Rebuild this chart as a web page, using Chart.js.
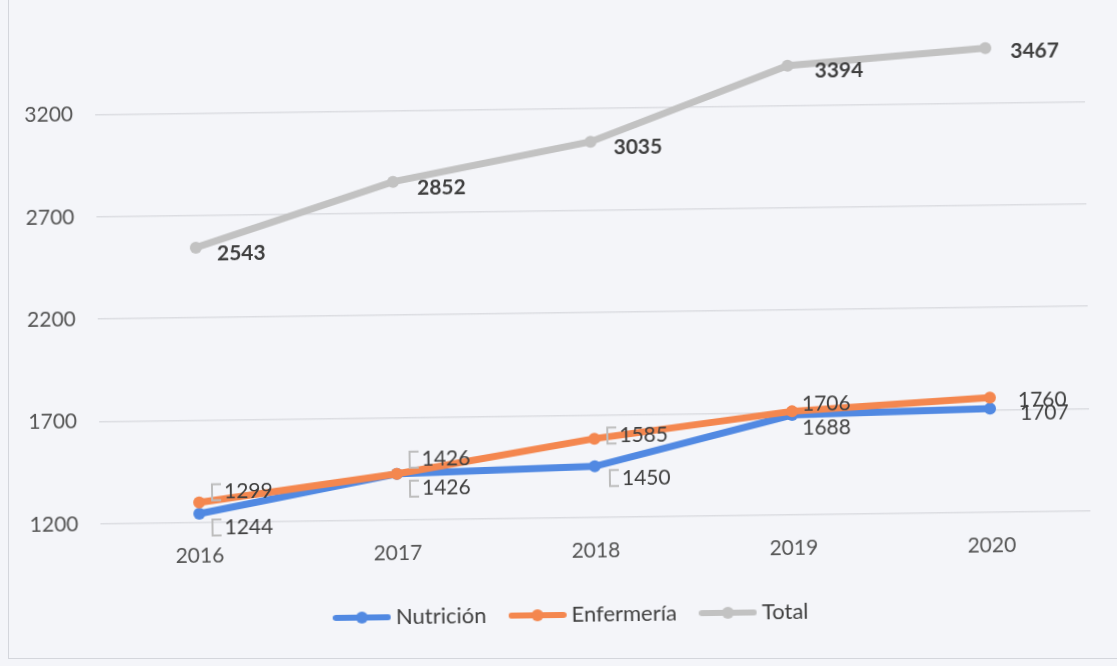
<!DOCTYPE html>
<html>
<head>
<meta charset="utf-8">
<script src="https://cdn.jsdelivr.net/npm/chart.js@4"></script>
<style>
  html, body { margin:0; padding:0; background:#f4f5f9; }
  #wrap { position:relative; width:1117px; height:666px; overflow:hidden; background:#f4f5f9; }
  #frame { position:absolute; left:8px; top:-2px; width:1120px; height:661px; border:1px solid #d4d6dc; box-sizing:border-box; }
  #c { position:absolute; left:0; top:0; transform: rotate(-0.75deg); transform-origin: 558px 333px; }
</style>
</head>
<body>
<div id="wrap">
  <div id="frame"></div>
  <canvas id="c" width="1117" height="666"></canvas>
</div>
<script>
const categories = ['2016', '2017', '2018', '2019', '2020'];
const nutricion  = [1244, 1426, 1450, 1688, 1707];
const enfermeria = [1299, 1426, 1585, 1706, 1760];
const total      = [2543, 2852, 3035, 3394, 3467];
const seriesNames = ['Nutrición', 'Enfermería', 'Total'];
const yTicks = [1200, 1700, 2200, 2700, 3200];

const colors = ['#5189e2', '#f4874f', '#c2c2c2'];
const FONT = 'Lato, "Noto Sans", sans-serif';

// label offsets (dx, dy) per series per point – styling only
const labelOffsets = [
  [[25, 14], [25, 15], [27, 12], [10, 13], [30, 5]],
  [[25, -10], [25, -14], [25, -3], [10, -7], [28, 3]],
  [[21, 6], [24, 7], [23, 6], [27, 6], [25, 4]]
];
const leaderSeries = { 0: [0, 1, 2], 1: [0, 1, 2] };

function legendIcon(color) {
  const cv = document.createElement('canvas');
  cv.width = 58; cv.height = 14;
  const g = cv.getContext('2d');
  g.strokeStyle = color; g.lineWidth = 6; g.lineCap = 'round';
  g.beginPath(); g.moveTo(3, 7); g.lineTo(55, 7); g.stroke();
  g.fillStyle = color;
  g.beginPath(); g.arc(29, 7, 6, 0, Math.PI * 2); g.fill();
  return cv;
}

const dataLabelPlugin = {
  id: 'dataLabels',
  afterLayout(chart) {
    // centre the legend under the whole frame rather than the padded area
    chart.legend.left += 26;
    chart.legend.right += 26;
  },
  afterDatasetsDraw(chart) {
    const ctx = chart.ctx;
    ctx.save();
    chart.data.datasets.forEach((ds, di) => {
      const meta = chart.getDatasetMeta(di);
      meta.data.forEach((pt, i) => {
        const [dx, dy] = labelOffsets[di][i];
        const x = pt.x + dx, y = pt.y + dy;
        if (leaderSeries[di] && leaderSeries[di].includes(i)) {
          ctx.strokeStyle = '#bdbdbd';
          ctx.lineWidth = 2;
          ctx.beginPath();
          ctx.moveTo(x - 3, y - 8);
          ctx.lineTo(x - 12, y - 8);
          ctx.lineTo(x - 12, y + 8);
          ctx.lineTo(x - 3, y + 8);
          ctx.stroke();
        }
        ctx.fillStyle = '#3f3f3f';
        ctx.font = (di === 2 ? 'bold ' : '') + '21px ' + FONT;
        ctx.textAlign = 'left';
        ctx.textBaseline = 'middle';
        ctx.fillText(String(ds.data[i]), x, y);
      });
    });
    ctx.restore();
  }
};

const seriesData = [nutricion, enfermeria, total];
const datasets = seriesData.map((d, k) => ({
  label: seriesNames[k],
  data: d,
  borderColor: colors[k],
  backgroundColor: colors[k],
  borderWidth: 7,
  pointRadius: 6,
  pointHoverRadius: 6,
  pointBackgroundColor: colors[k],
  pointBorderWidth: 0,
  pointStyle: 'circle',
  tension: 0,
  order: 3 - k
}));
const icons = colors.map(legendIcon);

new Chart(document.getElementById('c'), {
  type: 'line',
  data: { labels: categories, datasets },
  options: {
    responsive: false,
    animation: false,
    layout: { padding: { left: 0, right: 29, top: 2, bottom: 30 } },
    plugins: {
      tooltip: { enabled: false },
      legend: {
        position: 'bottom',
        labels: {
          font: { family: FONT, size: 22 },
          color: '#404040',
          usePointStyle: true,
          pointStyleWidth: 46,
          boxHeight: 14,
          padding: 28,
          generateLabels(chart) {
            return chart.data.datasets.map((ds, i) => ({
              text: ds.label,
              fillStyle: ds.borderColor,
              strokeStyle: ds.borderColor,
              lineWidth: 0,
              pointStyle: icons[i],
              hidden: false,
              datasetIndex: i,
              fontColor: '#404040'
            }));
          }
        }
      }
    },
    scales: {
      x: {
        offset: true,
        grid: { display: false, drawTicks: false },
        border: { display: false },
        ticks: { font: { family: FONT, size: 21 }, color: '#555555', padding: 21 },
        afterFit(s) { s.height = 58; s.paddingLeft = 0; s.paddingRight = 0; }
      },
      y: {
        min: 1200,
        max: 3700,
        afterBuildTicks(s) { s.ticks = yTicks.concat([3700]).map(v => ({ value: v })); },
        grid: {
          drawTicks: false,
          color: ctx => (ctx.tick && ctx.tick.value === 3700) ? 'rgba(0,0,0,0)' : '#dcdde2',
          lineWidth: 1.5
        },
        border: { display: false },
        ticks: {
          font: { family: FONT, size: 21 },
          color: '#555555',
          padding: 22,
          callback: v => (v === 3700 ? '' : String(v))
        },
        afterFit(s) { s.width = 98; s.paddingTop = 0; s.paddingBottom = 0; }
      }
    }
  },
  plugins: [dataLabelPlugin]
});
</script>
</body>
</html>
